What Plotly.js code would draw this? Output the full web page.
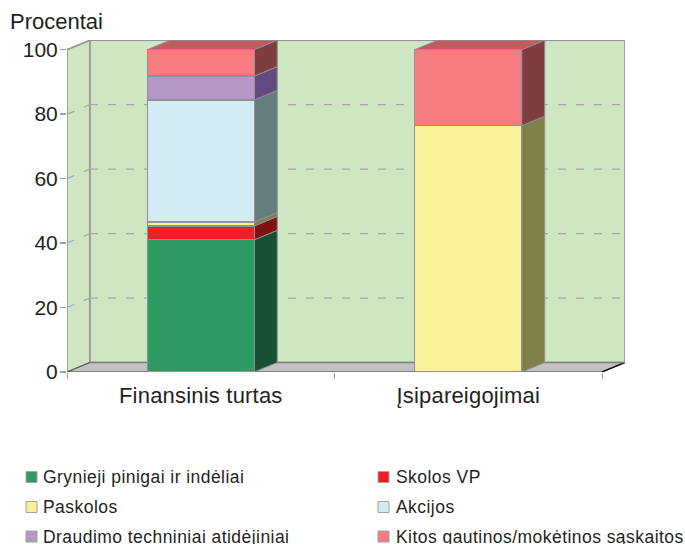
<!DOCTYPE html>
<html>
<head>
<meta charset="utf-8">
<script src="https://cdn.plot.ly/plotly-3.0.1.min.js"></script>
<style>
html,body{margin:0;padding:0;background:#fff;overflow:hidden}
.annotation-text{letter-spacing:0.45px}
.annotation[data-index="0"] .annotation-text{letter-spacing:0}
.xtick text{letter-spacing:0.2px}
</style>
</head>
<body>
<div id="chart" style="width:685px;height:544px"></div>
<script>
const categories = ["Finansinis turtas", "Įsipareigojimai"];
const grynieji = [41, null];
const skolos = [4.3, null];
const paskolos = [1.2, 76.4];
const akcijos = [37.9, null];
const draudimo = [7.4, null];
const kitos = [8.2, 23.6];
const seriesNames = ["Grynieji pinigai ir indėliai", "Skolos VP", "Paskolos", "Akcijos", "Draudimo techniniai atidėjiniai", "Kitos gautinos/mokėtinos sąskaitos"];
const seriesValues = [grynieji, skolos, paskolos, akcijos, draudimo, kitos];
const frontColors = ["#2e9963", "#ee1f24", "#f7f29a", "#d3ebf3", "#b698c6", "#f67c80"];
const sideColors = ["#164f33", "#7f1014", "#817f4a", "#647d7e", "#634a7e", "#7f3d3f"];
const topColor = "#c05c5c";
const yTicks = [0, 20, 40, 60, 80, 100];

const barWidth = 0.4, depthX = 0.086, depthY = 2.95;
const L = 67, T = 40, W = 558, H = 332;
const edge = "#949494", wall = "#cfe6c3", floorCol = "#c2c2c4";
const xMin = -0.5, xMax = 1.5;

const poly = (pts) => "M" + pts.map(p => p[0] + "," + p[1]).join("L") + "Z";
const shape = (pts, fill, line, lw) => ({type:"path", layer:"below", xref:"x", yref:"y", path:poly(pts),
  fillcolor:fill, line:{color:line, width:lw}});
const seg = (x0,y0,x1,y1,color,width,dash) => ({type:"line", layer:"below", xref:"x", yref:"y", x0,y0,x1,y1,
  line:{color,width,dash:dash||"solid"}});

const shapes = [];
// walls and floor
shapes.push(shape([[xMin,0],[xMin+depthX,depthY],[xMin+depthX,100+depthY],[xMin,100]], wall, edge, 1.6));
shapes.push(shape([[xMin+depthX,depthY],[xMax+depthX,depthY],[xMax+depthX,100+depthY],[xMin+depthX,100+depthY]], wall, edge, 1.6));
shapes.push(shape([[xMin,0],[xMin+depthX,depthY],[xMax+depthX,depthY],[xMax,0]], floorCol, "#8a8a8a", 1));
// gridlines
yTicks.filter(v => v > 0 && v < 100).forEach(v => {
  shapes.push(seg(xMin, v, xMin+depthX, v+depthY, "#a6a6a6", 1.2, "8px,10px"));
  shapes.push(seg(xMin+depthX, v+depthY, xMax+depthX, v+depthY, "#a6a6a6", 1.2, "8px,10px"));
});
// floor edges
shapes.push(seg(xMin, 0, xMax, 0, "#7d7d7d", 2));
shapes.push(seg(xMin, 0, xMin+depthX, depthY, "#555555", 1));
shapes.push(seg(xMax, 0, xMax+depthX, depthY, "#111111", 1.5));
shapes.push(seg(xMin+depthX, depthY, xMax+depthX, depthY, "#808080", 1.5));
// depth faces of the stacked bars
categories.forEach((c, i) => {
  const xr = i + barWidth/2, xl = i - barWidth/2;
  let base = 0;
  seriesValues.forEach((vals, s) => {
    const v = vals[i];
    if (v == null) return;
    const top = base + v;
    shapes.push(shape([[xr,base],[xr+depthX,base+depthY],[xr+depthX,top+depthY],[xr,top]], sideColors[s], "#8f8f8f", 1));
    base = top;
  });
  shapes.push(shape([[xl,base],[xl+depthX,base+depthY],[xr+depthX,base+depthY],[xr,base]], topColor, "#8f8f8f", 1));
});

const px = (x) => (x - L) / W;
const py = (y) => (T + H - y) / H;
const legendFont = {family:"Liberation Sans, Arial, sans-serif", size:17.5, color:"#231f20"};
const legendRows = [477, 507, 536.5];
const legendCols = [{sw:26, tx:42}, {sw:378, tx:395}];
const annotations = [{xref:"paper", yref:"paper", x:px(7), y:py(22), xanchor:"left", yanchor:"middle", showarrow:false, borderpad:0,
  text:"Procentai", font:{family:"Liberation Sans, Arial, sans-serif", size:22, color:"#231f20"}}];
seriesNames.forEach((n, s) => {
  const col = legendCols[s % 2], cy = legendRows[Math.floor(s / 2)];
  annotations.push({xref:"paper", yref:"paper", x:px(col.tx), y:py(cy), xanchor:"left", yanchor:"middle", showarrow:false, borderpad:0, text:n, font:legendFont});
  shapes.push({type:"rect", layer:"above", xref:"paper", yref:"paper", x0:px(col.sw), x1:px(col.sw+11), y0:py(cy+5.5), y1:py(cy-5.5),
    fillcolor:frontColors[s], line:{color:"#a0a0a0", width:1}});
});

const traces = seriesNames.map((n, s) => ({
  type:"bar", name:n, x:categories, y:seriesValues[s], width:barWidth,
  marker:{color:frontColors[s], line:{color:"#919191", width:1.3}}, hoverinfo:"name+y"
}));

const layout = {
  width:685, height:544, barmode:"stack", showlegend:false,
  paper_bgcolor:"#fff", plot_bgcolor:"rgba(0,0,0,0)",
  margin:{l:L, t:T, r:685-L-W, b:544-T-H, pad:0},
  font:{family:"Liberation Sans, Arial, sans-serif", color:"#231f20"},
  xaxis:{type:"category", categoryorder:"array", categoryarray:categories, range:[xMin, xMax+depthX], tickson:"boundaries",
    ticks:"outside", ticklen:6, tickcolor:"#a0a0a0", tickwidth:1, showgrid:false, zeroline:false, showline:false,
    ticklabelstandoff:8, tickfont:{size:22, color:"#231f20"}},
  yaxis:{range:[0, 100+depthY+0.05], tickvals:yTicks, ticks:"outside", ticklen:6, tickcolor:"#a0a0a0", tickwidth:1.5,
    showgrid:false, zeroline:false, showline:false, ticklabelstandoff:-2, tickfont:{size:21, color:"#231f20"}},
  shapes, annotations
};
Plotly.newPlot("chart", traces, layout, {displayModeBar:false, staticPlot:true});
</script>
</body>
</html>
